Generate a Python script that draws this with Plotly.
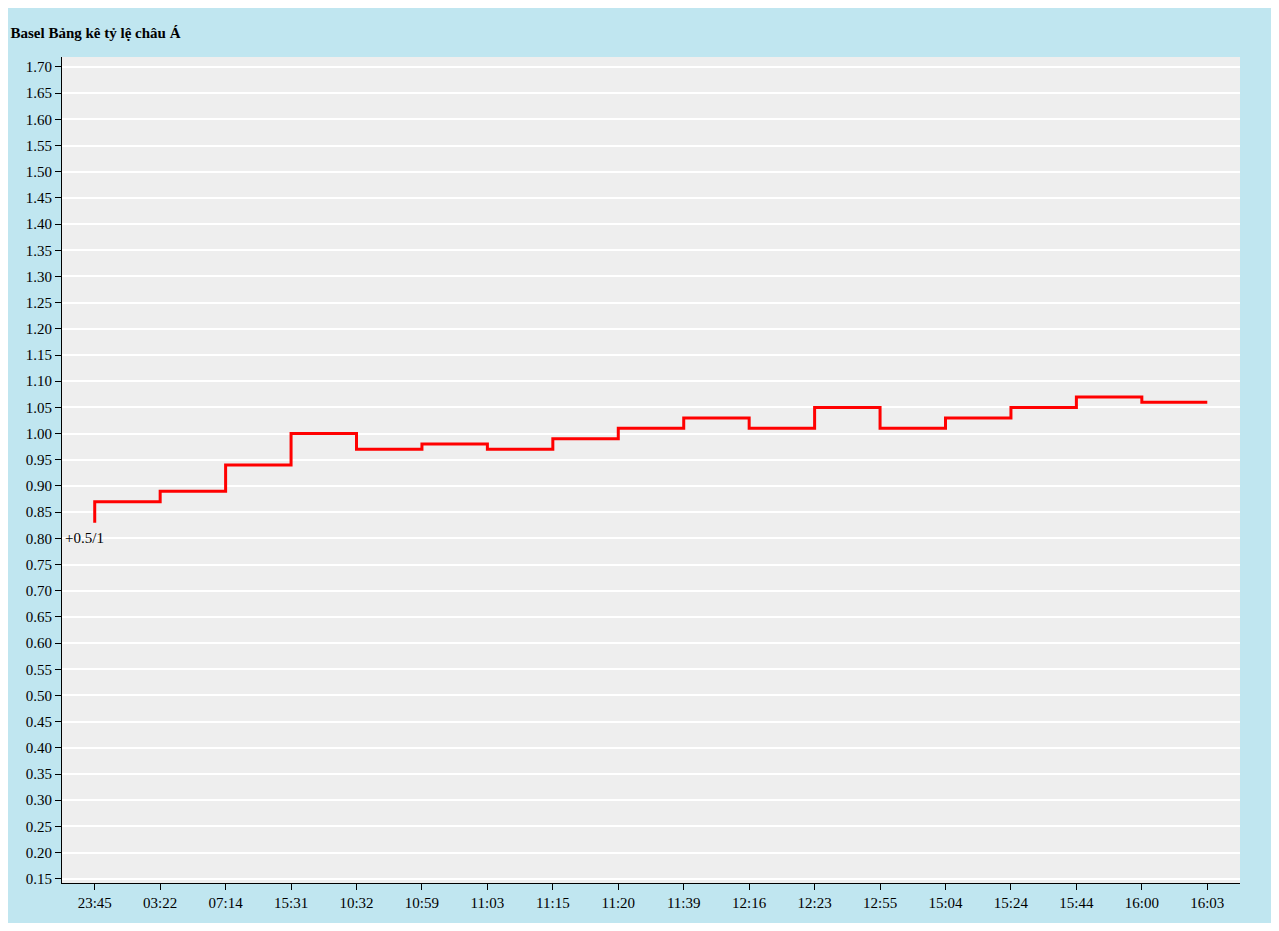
import plotly.graph_objects as go

# 时间标签和赔率
times = ["23:45", "03:22", "07:14", "15:31", "10:32", "10:59", "11:03", "11:15", "11:20",
         "11:39", "12:16", "12:23", "12:55", "15:04", "15:24", "15:44", "16:00", "16:03"]
odds = [0.87, 0.89, 0.94, 1.00, 0.97, 0.98, 0.97, 0.99, 1.01,
        1.03, 1.01, 1.05, 1.01, 1.03, 1.05, 1.07, 1.06, 1.06]
start_val = 0.83
label = "+0.5/1"

xs = [0] + list(range(len(times)))
ys = [start_val] + odds

fig = go.Figure()
fig.add_trace(go.Scatter(x=xs, y=ys, mode="lines", line=dict(color="red", width=3, shape="hv"),
                         hoverinfo="skip", showlegend=False))
fig.add_annotation(x=0, y=0.80, text=label, showarrow=False, xanchor="center", xshift=-10,
                   font=dict(family="Liberation Serif", size=15, color="black"))

yt = [round(0.15 + 0.05 * i, 2) for i in range(32)]
fig.update_layout(
    width=1263, height=915,
    paper_bgcolor="#c0e6f0", plot_bgcolor="#eeeeee",
    margin=dict(l=54, r=31, t=49, b=40),
    font=dict(family="Liberation Serif", size=15, color="black"),
    title=dict(text="<b>Basel Bảng kê tỷ lệ châu Á</b>", x=0.002, xanchor="left", y=0.979,
               font=dict(size=15, family="Liberation Serif")),
    xaxis=dict(range=[-0.5, 17.5], tickvals=list(range(len(times))), ticktext=times,
               showgrid=False, zeroline=False, showline=True, linecolor="black",
               ticks="outside", ticklen=6, tickcolor="black"),
    yaxis=dict(range=[0.142, 1.719], tickvals=yt, ticktext=[f"{v:.2f}" for v in yt],
               showgrid=True, gridcolor="white", gridwidth=1.5, zeroline=False,
               showline=True, linecolor="black", ticks="outside", ticklen=6, tickcolor="black"),
)
fig.write_html("out.html")
